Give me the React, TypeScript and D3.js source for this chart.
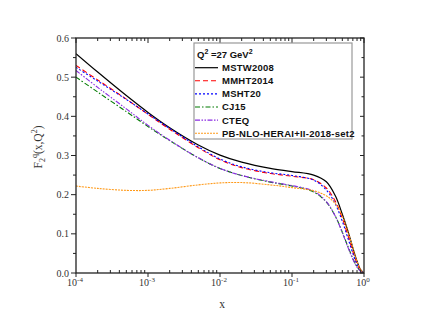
import React from 'react';
import * as d3 from 'd3';

// x grid shared by every curve
const xs = [1e-4, 2e-4, 5e-4, 1e-3, 2e-3, 5e-3, 1e-2, 2e-2, 5e-2, 0.1, 0.2, 0.3, 0.4, 0.5, 0.6, 0.7, 0.8, 0.9, 1.0];

const mstw2008 = [0.560, 0.513, 0.453, 0.410, 0.371, 0.327, 0.301, 0.283, 0.267, 0.259, 0.250, 0.233, 0.197, 0.150, 0.106, 0.064, 0.030, 0.008, 0];
const mmht2014 = [0.530, 0.493, 0.444, 0.405, 0.367, 0.320, 0.289, 0.269, 0.254, 0.247, 0.238, 0.217, 0.183, 0.140, 0.095, 0.055, 0.025, 0.006, 0];
const msht20 = [0.525, 0.490, 0.443, 0.406, 0.369, 0.322, 0.291, 0.271, 0.256, 0.249, 0.237, 0.212, 0.176, 0.132, 0.088, 0.050, 0.022, 0.005, 0];
const cj15 = [0.500, 0.462, 0.412, 0.374, 0.338, 0.294, 0.267, 0.249, 0.232, 0.222, 0.207, 0.181, 0.145, 0.104, 0.067, 0.037, 0.016, 0.004, 0];
const cteq = [0.517, 0.474, 0.419, 0.377, 0.339, 0.294, 0.267, 0.249, 0.233, 0.223, 0.209, 0.182, 0.145, 0.103, 0.065, 0.035, 0.015, 0.004, 0];
const pbSet2 = [0.222, 0.216, 0.211, 0.211, 0.216, 0.225, 0.230, 0.231, 0.225, 0.218, 0.210, 0.197, 0.177, 0.145, 0.105, 0.065, 0.030, 0.008, 0];

const xTickExps = [-4, -3, -2, -1, 0];
const yTicks = [0.0, 0.1, 0.2, 0.3, 0.4, 0.5, 0.6];
const yMinorTicks = [0.05, 0.15, 0.25, 0.35, 0.45, 0.55];

const series = [
  { name: 'MSTW2008', values: mstw2008, color: '#000000', dash: '', width: 1.2 },
  { name: 'MMHT2014', values: mmht2014, color: '#ff0000', dash: '5,3', width: 1.1 },
  { name: 'MSHT20', values: msht20, color: '#0000ff', dash: '2,2', width: 1.1 },
  { name: 'CJ15', values: cj15, color: '#007a00', dash: '5,2,1.5,2', width: 1.1 },
  { name: 'CTEQ', values: cteq, color: '#8a2be2', dash: '5,1.5,1.5,1.5,1.5,1.5', width: 1.1 },
  { name: 'PB-NLO-HERAI+II-2018-set2', values: pbSet2, color: '#ff9a1a', dash: '2,1', width: 1.1 },
];

const W = 423;
const H = 327;
const left = 76;
const right = 364;
const top = 38;
const bottom = 273;

export default function App() {
  const x = d3.scaleLog().domain([1e-4, 1]).range([left, right]);
  const y = d3.scaleLinear().domain([0, 0.6]).range([bottom, top]);

  const line = d3
    .line<[number, number]>()
    .x((d) => x(d[0]))
    .y((d) => y(d[1]))
    .curve(d3.curveCatmullRom.alpha(0.5));

  const minorX: number[] = [];
  for (let e = -4; e < 0; e++) {
    for (let k = 2; k <= 9; k++) minorX.push(k * Math.pow(10, e));
  }

  const serif = '"Liberation Serif", "Times New Roman", serif';
  const sans = '"Liberation Sans", Arial, sans-serif';

  const legX = 194;
  const legY = 43;
  const legW = 158;
  const legH = 96;

  return (
    <svg width={W} height={H} style={{ position: 'absolute', left: 0, top: 0, background: '#fff' }}>
      <defs>
        <clipPath id="plot">
          <rect x={left} y={top} width={right - left} height={bottom - top} />
        </clipPath>
      </defs>

      {/* curves */}
      <g clipPath="url(#plot)" fill="none">
        {series.map((s) => (
          <path
            key={s.name}
            d={line(xs.map((v, i) => [v, s.values[i]] as [number, number])) || ''}
            stroke={s.color}
            strokeWidth={s.width}
            strokeDasharray={s.dash}
          />
        ))}
      </g>

      {/* frame */}
      <rect x={left} y={top} width={right - left} height={bottom - top} fill="none" stroke="#222" strokeWidth={1.3} />

      {/* x ticks */}
      <g stroke="#222" strokeWidth={1}>
        {xTickExps.map((e) => {
          const px = x(Math.pow(10, e));
          return (
            <g key={e}>
              <line x1={px} x2={px} y1={bottom} y2={bottom + 4} />
              <line x1={px} x2={px} y1={top} y2={top + 5} />
            </g>
          );
        })}
        {minorX.map((v, i) => (
          <g key={i}>
            <line x1={x(v)} x2={x(v)} y1={bottom} y2={bottom - 3} />
            <line x1={x(v)} x2={x(v)} y1={top} y2={top + 3} />
          </g>
        ))}
      </g>

      {/* y ticks */}
      <g stroke="#222" strokeWidth={1}>
        {yTicks.map((t) => (
          <g key={t}>
            <line x1={left - 5} x2={left} y1={y(t)} y2={y(t)} />
            <line x1={right - 4} x2={right} y1={y(t)} y2={y(t)} />
          </g>
        ))}
        {yMinorTicks.map((t) => (
          <g key={t}>
            <line x1={left - 3} x2={left} y1={y(t)} y2={y(t)} />
            <line x1={right - 2.5} x2={right} y1={y(t)} y2={y(t)} />
          </g>
        ))}
      </g>

      {/* tick labels */}
      <g fontFamily={serif} fontSize={10} fill="#333">
        {yTicks.map((t) => (
          <text key={t} x={left - 7} y={y(t) + 3.5} textAnchor="end">
            {t.toFixed(1)}
          </text>
        ))}
        {xTickExps.map((e) => (
          <text key={e} x={x(Math.pow(10, e)) - 1} y={bottom + 13} textAnchor="middle">
            10
            <tspan fontSize={7} dy={-4}>
              {e}
            </tspan>
          </text>
        ))}
      </g>

      {/* axis titles */}
      <text x={(left + right) / 2 + 2} y={308} fontFamily={serif} fontSize={11.5} fill="#333" textAnchor="middle">
        x
      </text>
      <text
        transform={`translate(42,147) rotate(-90)`}
        fontFamily={serif}
        fontSize={11.5}
        fill="#333"
        textAnchor="middle"
      >
        F
        <tspan fontSize={8} dy={3}>2</tspan>
        <tspan fontSize={8} dy={-8}>q</tspan>
        <tspan dy={5}>(x,Q</tspan>
        <tspan fontSize={8} dy={-5}>2</tspan>
        <tspan dy={5}>)</tspan>
      </text>

      {/* legend */}
      <rect x={legX} y={legY} width={legW} height={legH} fill="#fff" stroke="#999" strokeWidth={1.2} />
      <text x={legX + 3} y={legY + 15} fontFamily={sans} fontWeight="bold" fontSize={9.5} fill="#111">
        Q<tspan fontSize={7} dy={-4}>2</tspan>
        <tspan dy={4}> =27 GeV</tspan>
        <tspan fontSize={7} dy={-4}>2</tspan>
      </text>
      {series.map((s, i) => {
        const cy = legY + 24.7 + i * 13.1;
        return (
          <g key={s.name}>
            <line
              x1={legX + 1}
              x2={legX + 24}
              y1={cy}
              y2={cy}
              stroke={s.color}
              strokeWidth={s.width}
              strokeDasharray={s.dash}
            />
            <text
              x={legX + 28}
              y={cy + 3.4}
              fontFamily={sans}
              fontWeight="bold"
              fontSize={9.5}
              letterSpacing={0.25}
              fill="#111"
            >
              {s.name}
            </text>
          </g>
        );
      })}
    </svg>
  );
}
